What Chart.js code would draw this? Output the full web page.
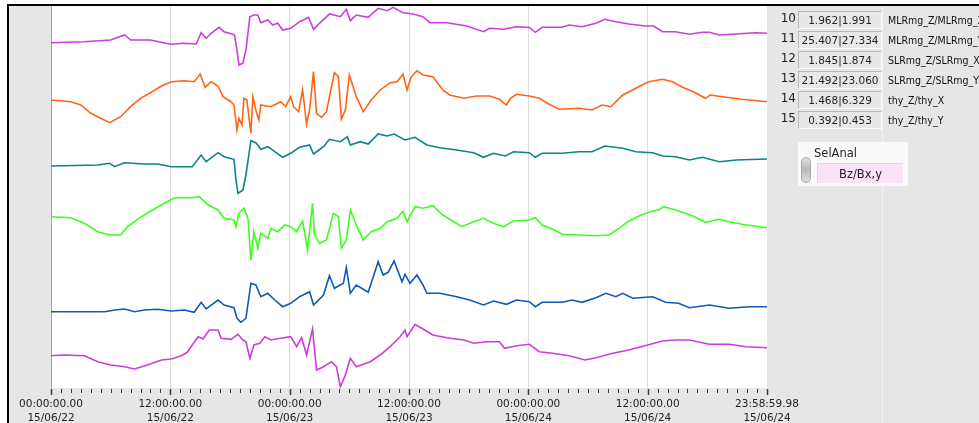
<!DOCTYPE html>
<html>
<head>
<meta charset="utf-8">
<script src="https://cdn.jsdelivr.net/npm/chart.js@4/dist/chart.umd.min.js"></script>
<style>
  html, body { margin: 0; padding: 0; background: #ffffff; }
  #wrap { position: relative; width: 979px; height: 423px; overflow: hidden; }
  #plot { position: absolute; left: 0; top: 0; }
  .idx { position: absolute; left: 774px; width: 22px; text-align: right; font: 12px "DejaVu Sans", sans-serif; color: #222; }
  .box { position: absolute; left: 798px; width: 82px; height: 16px; background: #e8e8e8;
         border-top: 1px solid #b8b8b8; border-left: 1px solid #b8b8b8; border-right: 1px solid #fbfbfb; border-bottom: 1px solid #fbfbfb;
         text-align: center; font: 10.5px/16px "DejaVu Sans", sans-serif; color: #222; }
  .lbl { position: absolute; left: 888px; white-space: nowrap; font: 10.5px "DejaVu Sans Condensed", "DejaVu Sans", sans-serif; color: #111; }
  #sel { position: absolute; left: 798px; top: 142px; width: 110px; height: 44px; background: #fafafa; }
  #selTitle { position: absolute; left: 16px; top: 4px; font: 11.5px "DejaVu Sans", sans-serif; color: #222; }
  #spin { position: absolute; left: 3px; top: 15px; width: 10px; height: 26px; border-radius: 5px; background: linear-gradient(#e0e0e0, #b8b8b8 50%, #e0e0e0); border: 1px solid #a8a8a8; box-sizing: border-box; }
  #selBox { position: absolute; left: 19px; top: 21px; width: 86px; height: 20px; background: #fbe3f7; border-top: 1px solid #d8d8d8; border-left: 1px solid #d8d8d8;
            text-align: center; font: 11.5px/20px "DejaVu Sans", sans-serif; color: #222; box-sizing: border-box; }
</style>
</head>
<body>
<div id="wrap">
  <canvas id="plot" width="979" height="423"></canvas>
  <div id="panel"></div>
  <div id="sel">
    <div id="selTitle">SelAnal</div>
    <div id="spin"></div>
    <div id="selBox">Bz/Bx,y</div>
  </div>
</div>
<script>
// Time axis: hours since 00:00 15/06/22, labelled every 12 h.
const labelHours = [0, 12, 24, 36, 48, 60, 72];
const labelTimes = ['00:00:00.00', '12:00:00.00', '00:00:00.00', '12:00:00.00', '00:00:00.00', '12:00:00.00', '23:58:59.98'];
const labelDates = ['15/06/22', '15/06/22', '15/06/23', '15/06/23', '15/06/24', '15/06/24', '15/06/24'];

// Indicator panel
const indexNumbers = ['10', '11', '12', '13', '14', '15'];
const ratioValues = ['1.962|1.991', '25.407|27.334', '1.845|1.874', '21.492|23.060', '1.468|6.329', '0.392|0.453'];
const ratioNames = ['MLRmg_Z/MLRmg_X', 'MLRmg_Z/MLRmg_Y', 'SLRmg_Z/SLRmg_X', 'SLRmg_Z/SLRmg_Y', 'thy_Z/thy_X', 'thy_Z/thy_Y'];

// Stacked traces: [hour, level] in display units (0 = bottom of graph)
const traceMLRX = [[0,345.3],[3.35,346.3],[6.0,348],[7.4,353],[8.0,348],[10.0,348],[12.0,343.7],[13.4,344.7],[14.6,344],[15.1,355.3],[15.6,349.7],[16.1,354.7],[16.9,360.7],[17.4,356.3],[18.3,353.7],[18.45,353],[18.7,338],[18.9,323],[19.3,324.7],[19.6,338],[20.0,371.3],[20.4,373],[20.8,373],[21.1,365.3],[21.8,368],[22.3,363],[22.8,364.7],[23.3,358],[24.1,359.7],[25.0,366.3],[25.9,370.7],[26.4,358.7],[27.0,364.7],[28.0,374],[29.1,371.3],[29.7,378.7],[30.1,367.3],[30.7,373],[31.9,370.7],[32.9,379.7],[33.8,377.3],[34.4,380.7],[35.4,375.3],[36.4,374],[37.4,371.3],[38.1,365.3],[39.8,365.3],[41.8,362],[43.5,356.3],[44.1,359.7],[45.5,358.7],[46.8,361.3],[48.1,360.5],[48.7,355.7],[49.4,360.7],[51.4,360.7],[52.1,363],[53.4,361.3],[54.8,364.7],[55.7,368.7],[56.8,366.3],[58.1,364],[59.8,362],[60.6,362],[61.5,356.3],[62.8,356.3],[64.2,353.7],[65.5,355.7],[66.2,355.7],[67.2,353],[68.9,354],[70.9,355.3],[72,354.7]];
const traceMLRY = [[0,288],[2.0,286.3],[3.0,283],[4.0,274.7],[5.0,269.7],[5.9,265.3],[7.0,271.3],[8.0,281.3],[9.0,289.7],[10.0,295.3],[11.1,302],[12.1,306.3],[13.4,307.3],[14.4,306.3],[15.0,314],[15.5,300.7],[16.1,306.3],[16.8,302],[17.3,291.3],[18.1,286.3],[18.4,283],[18.7,258],[18.9,269.7],[19.2,263],[19.4,289.7],[19.7,288],[20.1,254.7],[20.3,291.3],[20.6,278],[20.9,268],[21.1,283],[22.1,281.3],[23.1,286.3],[23.6,281.3],[24.1,291.3],[24.4,281.3],[24.9,276.3],[25.3,298],[25.7,264],[26.0,278],[26.4,316.3],[26.7,274.7],[27.2,270.7],[27.7,276.3],[28.5,315.3],[28.9,311.3],[29.2,268.7],[29.6,278],[30.0,313],[30.7,291.3],[31.4,276.3],[32.2,288],[33.1,298],[34.1,305.3],[34.8,306.3],[35.4,314],[35.8,298],[36.2,310.7],[36.8,317.3],[37.4,313],[38.4,311.3],[39.4,298],[40.1,293],[41.5,289.7],[42.8,292],[44.1,292],[45.1,288.7],[45.8,283],[46.2,289.7],[46.8,293.7],[48.1,292],[49.1,289.7],[50.1,283.7],[51.1,278.7],[53.1,279.7],[54.4,278],[55.4,283],[56.3,281.3],[57.5,293],[58.8,299.7],[60.1,306.3],[61.5,308.7],[62.5,306.3],[63.5,300.7],[64.8,295.3],[65.8,289.7],[66.3,293],[67.5,291.3],[69.5,288.7],[72,286.3]];
const traceSLRX = [[0,222],[4.7,223],[5.9,224.7],[6.4,221.3],[7.4,225.3],[9.4,224],[10.7,224],[12.1,221.3],[14.2,221.3],[15.1,233],[15.6,226.3],[16.8,235.3],[17.4,231.3],[18.4,228.7],[18.6,208],[18.8,194.7],[19.3,198],[19.6,213],[20.1,247.3],[20.6,245.3],[21.1,238.7],[21.8,241.3],[22.5,236.3],[23.3,230.7],[24.1,234.7],[25.0,240.7],[26.0,243],[26.4,234],[27.4,241.3],[28.0,248.7],[29.1,246.3],[29.8,251.3],[30.1,243],[31.1,246.3],[31.9,244],[32.9,254],[33.8,252],[34.5,254],[35.6,248],[36.6,250.7],[37.8,243],[39.1,240.3],[40.8,238],[42.5,235.3],[43.5,230.7],[44.5,234.7],[45.7,232],[46.5,236.3],[48.1,235.3],[48.7,230.7],[49.4,234.7],[51.4,234.7],[53.1,236.3],[54.4,236.3],[55.7,242],[57.5,239.7],[58.8,236.3],[60.5,235.3],[61.5,232],[62.8,231.3],[64.2,228],[65.5,230.7],[67.2,226.3],[68.9,228],[72,229]];
const traceSLRY = [[0,171.3],[2.0,170.3],[3.35,164.7],[4.7,156.3],[5.9,153],[7.0,153],[7.7,161.3],[9.1,171.3],[10.4,179],[11.4,184.7],[12.4,190.3],[14.1,190.3],[14.9,191.3],[15.8,183],[16.8,178],[17.4,169.7],[18.4,168],[18.6,161.3],[18.9,174.7],[19.4,179.7],[19.8,169.7],[20.1,128],[20.4,156.3],[20.8,139.7],[21.1,154.7],[21.8,149.7],[22.1,159.7],[22.8,156.3],[23.5,163],[24.1,161.3],[24.7,156.3],[25.3,167],[25.8,138],[26.3,184.7],[26.5,153],[27.0,144.7],[27.7,148],[28.4,174.7],[28.9,171.3],[29.2,139.7],[29.7,148],[30.1,178],[30.7,163],[31.4,148],[32.2,156.3],[33.1,159.7],[33.8,166.3],[34.8,169.7],[35.4,177],[35.8,166.3],[36.6,181.3],[37.4,179.7],[38.4,182.3],[39.4,173],[40.5,166.3],[41.3,161.3],[42.5,166.3],[43.5,169.7],[44.5,164.7],[45.5,161.3],[46.5,167],[48.1,168],[48.7,170.3],[49.4,163],[50.4,159],[51.4,153.7],[53.1,153],[54.8,152.3],[56.1,153],[57.1,159.7],[58.1,167],[59.5,173.7],[60.5,177],[61.1,178],[61.6,181.3],[62.8,178],[64.5,172.3],[65.8,165.7],[67.2,168.7],[68.2,166.3],[69.5,163.7],[72,160.3]];
const traceThyX = [[0,76.3],[5.4,76.3],[6.4,78],[7.4,79],[8.4,76.3],[9.4,78],[10.7,78.7],[12.1,77],[13.4,78],[14.4,75.7],[15.1,85.7],[15.6,79],[16.8,88],[17.4,83],[18.4,80.3],[18.7,69.7],[19.1,65.7],[19.6,69.7],[20.1,104.7],[20.6,103],[21.1,91.3],[21.8,94.7],[22.5,88],[23.3,81.3],[24.1,84.7],[25.0,91.3],[26.0,96.3],[26.4,83],[27.4,93],[28.0,112.3],[28.5,99.7],[29.4,104.7],[29.7,120.3],[30.1,94.7],[30.7,103],[31.9,95.7],[32.9,126.3],[33.4,113],[33.9,115.7],[34.5,127],[35.3,106.3],[35.6,113.7],[36.1,104.7],[36.8,113],[37.4,103],[37.8,94.7],[39.1,94.7],[40.8,91.3],[42.1,88],[43.5,83],[44.5,87],[45.8,83.7],[46.8,88],[48.1,86.3],[48.7,81.3],[49.4,85.7],[51.4,85.7],[52.4,88],[53.4,85.7],[54.8,90.3],[55.8,94.7],[56.8,91.3],[57.5,94.7],[58.5,89.7],[60.5,91.3],[61.8,85.7],[63.1,84.7],[64.2,80.3],[66.2,83],[68.2,79.7],[70.2,81.3],[72,81.3]];
const traceThyY = [[0,32.3],[1.3,33],[3.35,32.3],[4.7,26.3],[6.0,23],[7.4,21.3],[8.4,19],[9.7,23],[11.1,28],[12.1,29],[13.1,32.3],[13.7,35.7],[14.2,43],[14.8,51.3],[15.3,49],[15.9,58],[16.8,58],[17.1,49.7],[18.1,48.7],[18.8,53.7],[19.3,48],[19.6,46.3],[20.0,29.7],[20.4,43],[21.0,44.7],[21.5,51.3],[22.1,48],[23.1,49.7],[24.1,51.3],[24.7,41.3],[25.2,50.3],[25.7,33],[26.3,59],[26.7,18],[27.4,21.3],[28.2,26.3],[28.7,21.3],[29.1,1.3],[29.6,13],[30.1,29.7],[30.7,21.3],[32.1,26.3],[33.1,33],[34.1,41.3],[35.1,51.3],[35.6,58],[35.8,51.3],[36.6,63.7],[37.4,59],[38.4,53],[39.8,50.3],[41.5,48],[42.5,44.7],[43.8,46.3],[45.1,46.3],[45.6,39.7],[46.8,42.3],[48.1,43.7],[49.1,36.3],[50.4,34.7],[52.1,32.3],[53.7,28],[54.8,30.3],[56.5,34.7],[58.1,38],[60.0,43],[61.5,47],[62.8,48],[64.2,48],[66.2,43.7],[68.2,43.7],[69.9,41.3],[72,40.3]];

const traceData = [traceMLRX, traceMLRY, traceSLRX, traceSLRY, traceThyX, traceThyY];
const traceColors = ['#cc3ddd', '#ff6414', '#0b8585', '#3cff1e', '#1059b8', '#cc3ddd'];

// Build the indicator column
const panel = document.getElementById('panel');
indexNumbers.forEach((n, i) => {
  const top = 11 + i * 20;
  const a = document.createElement('div'); a.className = 'idx'; a.style.top = top + 'px'; a.textContent = n; panel.appendChild(a);
  const b = document.createElement('div'); b.className = 'box'; b.style.top = top + 'px'; b.textContent = ratioValues[i]; panel.appendChild(b);
  const c = document.createElement('div'); c.className = 'lbl'; c.style.top = (top + 3) + 'px'; c.textContent = ratioNames[i]; panel.appendChild(c);
});

// Frame, panel background and white plot area
const framePlugin = {
  id: 'frame',
  beforeDraw(chart) {
    const { ctx, chartArea: a, width, height } = chart;
    ctx.save();
    ctx.fillStyle = '#ffffff';
    ctx.fillRect(0, 0, width, height);
    ctx.fillStyle = '#e6e6e6';
    ctx.fillRect(7, 4, width - 7, height - 4);
    ctx.fillStyle = '#000000';
    ctx.fillRect(7, 4, width - 7, 2);
    ctx.fillRect(7, 4, 2, height - 4);
    ctx.fillStyle = '#f3f3f3';
    ctx.fillRect(882, 6, 1, height - 6);
    ctx.fillStyle = '#ffffff';
    ctx.fillRect(a.left, a.top, a.right - a.left, a.bottom - a.top);
    ctx.restore();
  },
  afterDraw(chart) {
    // hourly tick marks, longer at every 12 h
    const { ctx, chartArea: a } = chart;
    const xs = chart.scales.x;
    ctx.save();
    ctx.strokeStyle = '#3a3a3a';
    for (let h = 0; h <= 72; h++) {
      const major = h % 12 === 0;
      const x = Math.round(xs.getPixelForValue(h)) + 0.5;
      ctx.lineWidth = major ? 1.5 : 1;
      ctx.beginPath();
      ctx.moveTo(x, a.bottom + 1);
      ctx.lineTo(x, a.bottom + (major ? 7 : 5));
      ctx.stroke();
    }
    ctx.restore();
  }
};

new Chart(document.getElementById('plot'), {
  type: 'line',
  data: {
    datasets: traceData.map((d, i) => ({
      label: ratioNames[i],
      data: d.map(p => ({ x: p[0], y: p[1] })),
      borderColor: traceColors[i],
      borderWidth: 1.6,
      pointRadius: 0,
      tension: 0,
      fill: false
    }))
  },
  options: {
    responsive: false,
    animation: false,
    devicePixelRatio: 1,
    layout: { padding: { left: 51, right: 212, top: 6, bottom: 0 } },
    plugins: { legend: { display: false }, tooltip: { enabled: false } },
    scales: {
      x: {
        type: 'linear',
        min: 0,
        max: 72,
        afterFit: s => { s.height = 35; },
        border: { display: false },
        grid: {
          drawTicks: false,
          lineWidth: 1,
          color: c => {
            const v = c.tick ? c.tick.value : -1;
            if (v === 0) return '#a4a4a4';
            if (v === 72) return 'rgba(0,0,0,0)';
            return v % 12 === 0 ? '#dcdcdc' : 'rgba(0,0,0,0)';
          }
        },
        ticks: {
          stepSize: 1,
          autoSkip: false,
          maxRotation: 0,
          minRotation: 0,
          padding: 9,
          color: '#222222',
          font: { family: 'DejaVu Sans', size: 10.5, lineHeight: 1.38 },
          callback: v => {
            const i = labelHours.indexOf(v);
            return i >= 0 ? [labelTimes[i], labelDates[i]] : '';
          }
        }
      },
      y: { display: false, min: 0, max: 382 }
    }
  },
  plugins: [framePlugin]
});
</script>
</body>
</html>
